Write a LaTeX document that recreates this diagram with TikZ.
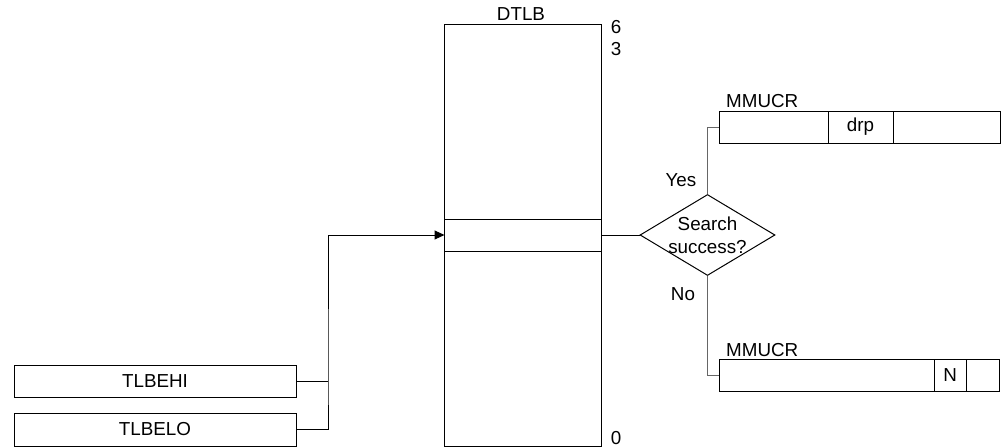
\documentclass[tikz,border=0pt]{standalone}
\usepackage{fontspec}
\setmainfont{Liberation Sans}
\usetikzlibrary{arrows.meta,positioning,shapes.geometric}

\begin{document}
\begin{tikzpicture}[
  x=1pt,
  y=-1pt,
  >={Triangle[length=10pt,width=9pt]},
  every node/.style={font=\fontsize{18.8}{23}\selectfont},
  box/.style={draw, rectangle, line width=1pt, outer sep=0pt, inner sep=0pt},
  cell/.style={box, minimum height=32pt},
  label/.style={anchor=base, inner sep=0pt},
  rel/.style={line width=1pt},
  link/.style={line width=1pt, draw=black!60}
]
  \useasboundingbox (0,0) rectangle (1005,447);

  % translation buffer
  \node[box, minimum width=157pt, minimum height=422pt] (dtlb) at (523, 235) {};
  \node[box, minimum width=157pt, minimum height=32pt] (entry) at (523, 235) {};
  \node[label] (dtlbname) at (521, 20.7) {DTLB};
  \node[label] (bitsix) at (616, 33.3) {6};
  \node[label] (bitthree) at (616, 55) {3};
  \node[label] (bitzero) at (616, 444.3) {0};

  % entry registers
  \node[box, minimum width=282pt, minimum height=32pt] (tlbehi) at (155, 381) {TLBEHI};
  \node[box, minimum width=282pt, minimum height=33pt] (tlbelo) at (155, 429.5) {TLBELO};
  \coordinate (bus) at (328, 381);
  \draw[rel] (tlbehi.east) -- (bus);
  \draw[rel, ->] (tlbelo.east) -| (bus) |- (entry.west);

  % search result
  \node[draw, diamond, line width=1pt, aspect=1.667, inner sep=-1.5pt, minimum width=135pt, minimum height=81pt, align=center] (search) at (707.5, 235) {Search\\success?};
  \draw[rel] (entry.east) -- (search.west);

  % MMUCR on hit
  \node[cell, minimum width=109pt] (mmuA1) at (773.5, 127) {};
  \node[cell, minimum width=65pt, right=0pt of mmuA1] (mmuA2) {drp};
  \node[cell, minimum width=107pt, right=0pt of mmuA2] (mmuA3) {};
  \node[label, anchor=base west] (mmuAname) at (726, 107.3) {MMUCR};
  \draw[link] (search.north) |- (mmuA1.west);
  \node[label] (yes) at (681, 186) {Yes};

  % MMUCR on miss
  \node[cell, minimum width=215pt, minimum height=32.5pt] (mmuB1) at (826.5, 375.5) {};
  \node[cell, minimum width=32.5pt, minimum height=32.5pt, right=0pt of mmuB1] (mmuB2) {N};
  \node[cell, minimum width=33pt, minimum height=32.5pt, right=0pt of mmuB2] (mmuB3) {};
  \node[label, anchor=base west] (mmuBname) at (726, 356) {MMUCR};
  \draw[link] (search.south) |- (mmuB1.west);
  \node[label] (no) at (683, 300.7) {No};
\end{tikzpicture}
\end{document}
